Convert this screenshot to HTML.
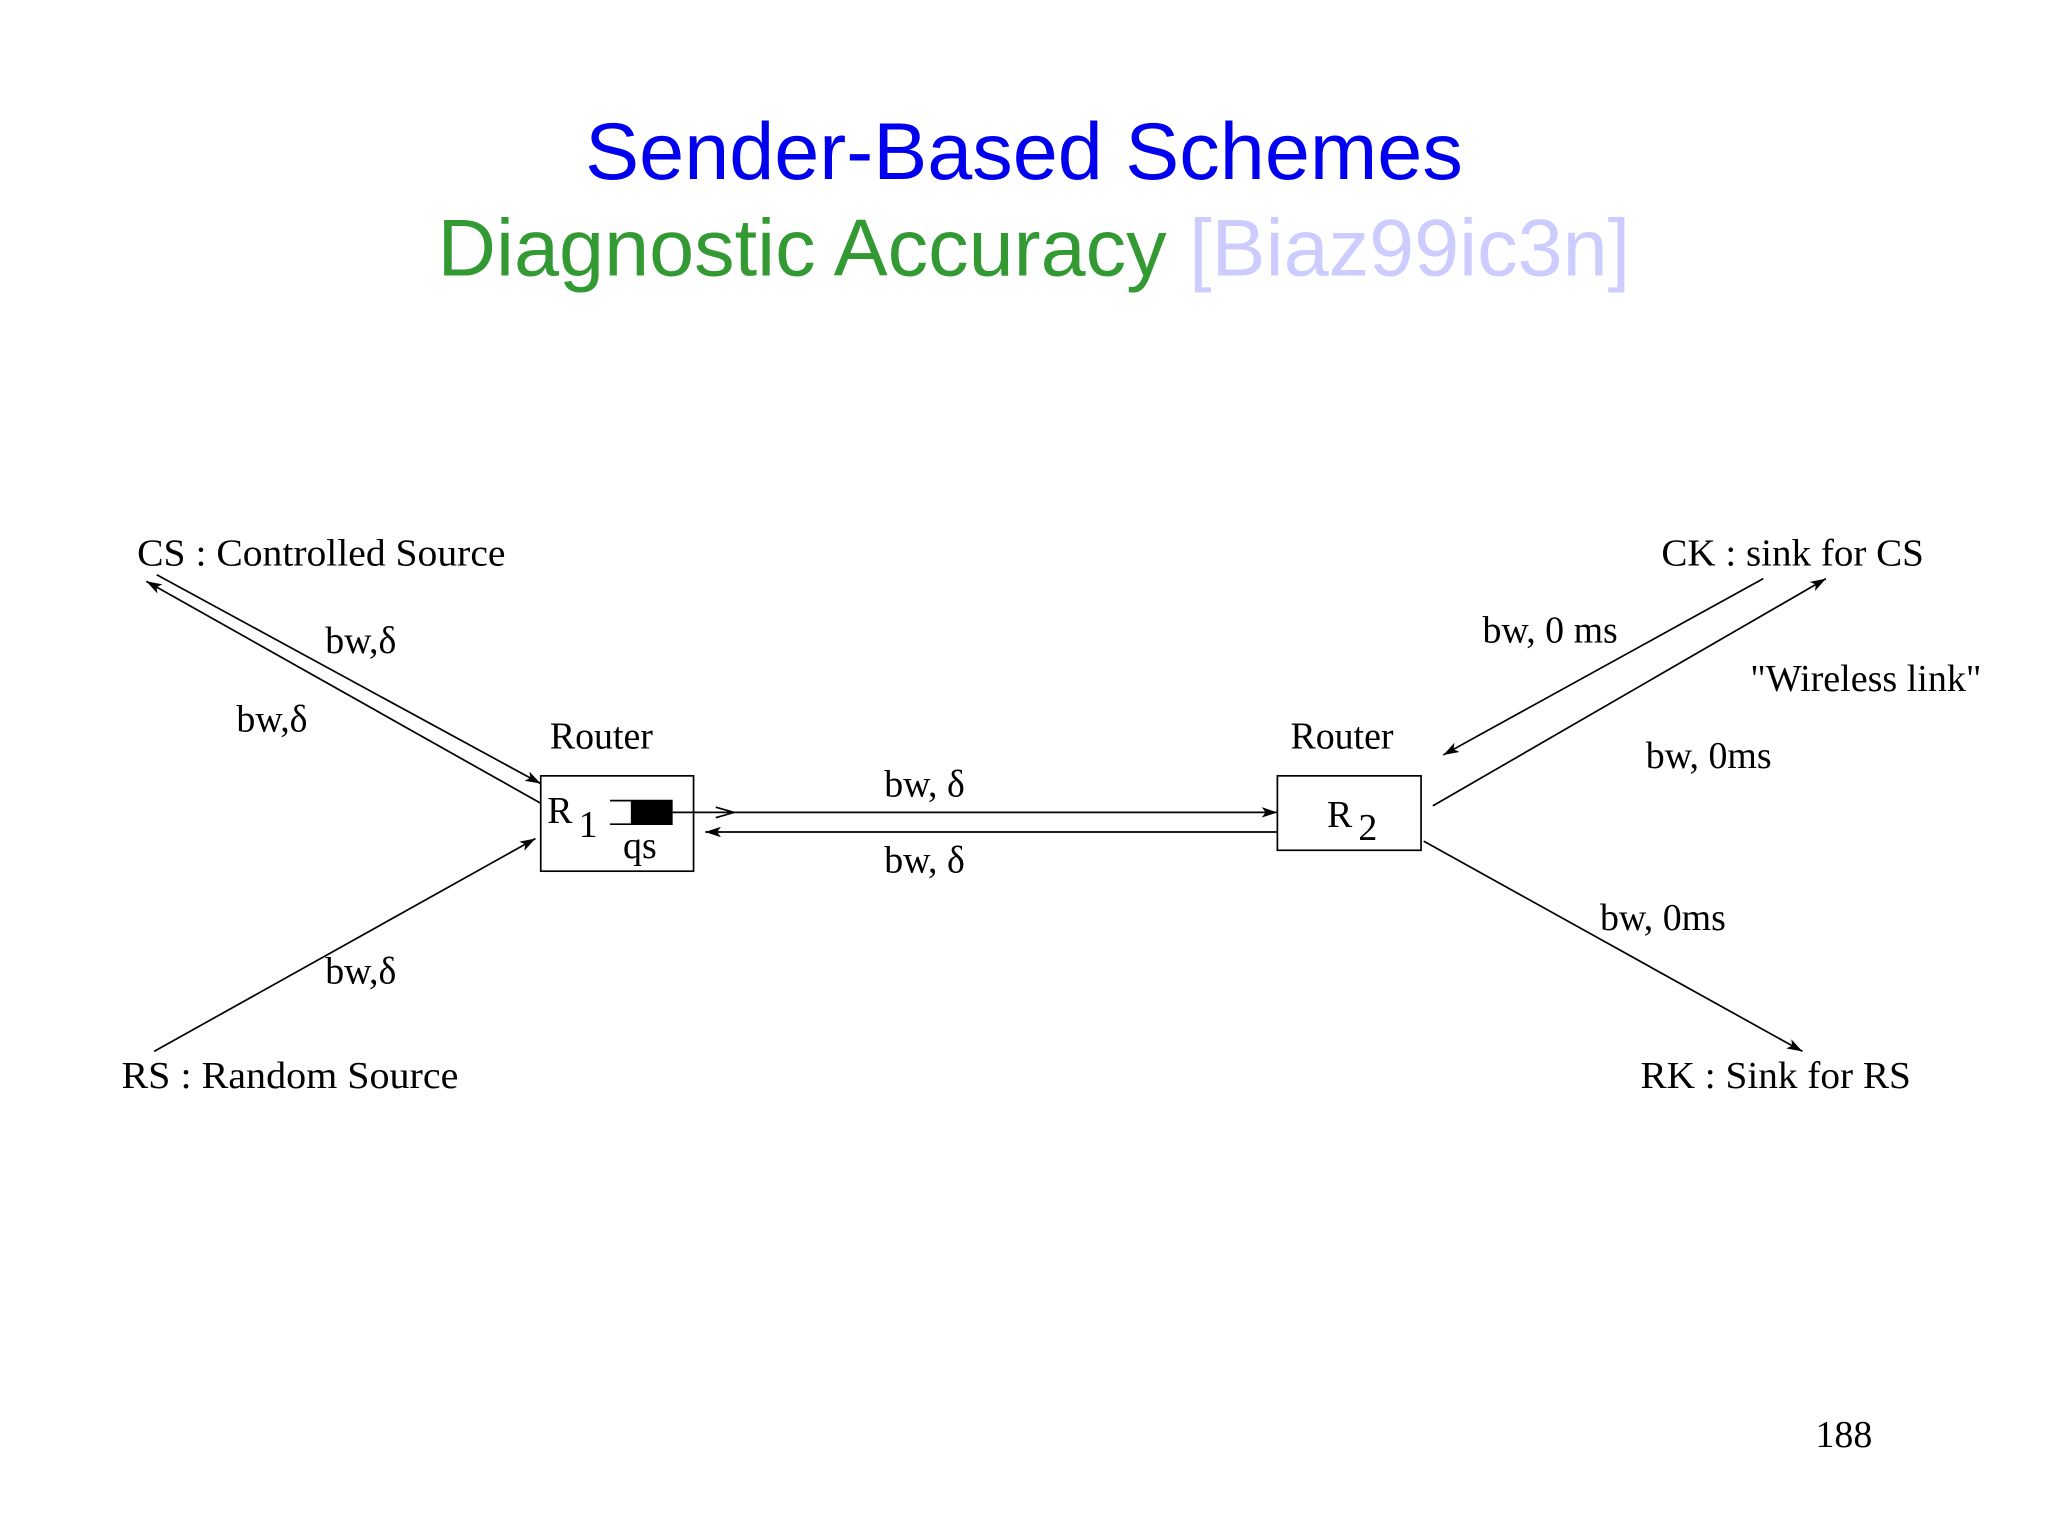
<!DOCTYPE html>
<html><head><meta charset="utf-8"><style>
html,body{margin:0;padding:0;background:#fff}
svg{display:block}
.t{font-family:"Liberation Serif",serif;font-size:29px;fill:#000}
.h{font-family:"Liberation Sans",sans-serif;font-size:62px}
line{stroke:#000;stroke-width:1.3}
</style></head><body>
<svg width="2048" height="1536" viewBox="0 0 1568 1176" xmlns="http://www.w3.org/2000/svg">
<defs><marker id="a" markerWidth="12" markerHeight="8" refX="12" refY="4" orient="auto" markerUnits="userSpaceOnUse"><path d="M0,0 L12,4 L0,8 L3,4 Z" fill="#000"/></marker></defs>
<text class="h" x="784" y="137" text-anchor="middle" fill="#0000ee">Sender-Based Schemes</text>
<text class="h" x="335" y="211" fill="#339933">Diagnostic Accuracy <tspan fill="#ccccff">[Biaz99ic3n]</tspan></text>

<text class="t" x="105" y="433" textLength="282" lengthAdjust="spacingAndGlyphs">CS : Controlled Source</text>
<text class="t" x="249" y="500">bw,δ</text>
<text class="t" x="181" y="560">bw,δ</text>
<text class="t" x="421" y="573">Router</text>
<text class="t" x="677" y="610">bw, δ</text>
<text class="t" x="677" y="668">bw, δ</text>
<text class="t" x="249" y="753">bw,δ</text>
<text class="t" x="93" y="833" textLength="258" lengthAdjust="spacingAndGlyphs">RS : Random Source</text>
<text class="t" x="988" y="573">Router</text>
<text class="t" x="1272" y="433" textLength="201" lengthAdjust="spacingAndGlyphs">CK : sink for CS</text>
<text class="t" x="1135" y="492">bw,  0 ms</text>
<text class="t" x="1340" y="529" textLength="177" lengthAdjust="spacingAndGlyphs">"Wireless link"</text>
<text class="t" x="1260" y="588">bw,  0ms</text>
<text class="t" x="1225" y="712">bw,  0ms</text>
<text class="t" x="1256" y="833" textLength="207" lengthAdjust="spacingAndGlyphs">RK : Sink for RS</text>
<text class="t" x="1390" y="1108">188</text>

<line x1="120" y1="440" x2="414" y2="600" marker-end="url(#a)"/>
<line x1="414" y1="615" x2="112" y2="445" marker-end="url(#a)"/>
<line x1="118" y1="805" x2="410" y2="642" marker-end="url(#a)"/>

<rect x="414" y="594" width="117" height="73" fill="none" stroke="#000" stroke-width="1.3"/>
<text class="t" x="419" y="630">R</text>
<text class="t" x="443" y="641">1</text>
<rect x="483" y="613" width="32" height="18" fill="#000"/>
<line x1="467" y1="613" x2="515" y2="613"/>
<line x1="467" y1="631" x2="515" y2="631"/>
<text class="t" x="477" y="657">qs</text>

<line x1="515" y1="622" x2="978" y2="622" marker-end="url(#a)"/>
<path d="M548,618 L562,622 L548,626" fill="none" stroke="#000" stroke-width="1.3"/>
<line x1="978" y1="637" x2="540" y2="637" marker-end="url(#a)"/>

<rect x="978" y="594" width="110" height="57" fill="none" stroke="#000" stroke-width="1.3"/>
<text class="t" x="1016" y="633">R</text>
<text class="t" x="1040" y="643">2</text>

<line x1="1350" y1="443" x2="1105" y2="578" marker-end="url(#a)"/>
<line x1="1097" y1="617" x2="1398" y2="443" marker-end="url(#a)"/>
<line x1="1090" y1="644" x2="1380" y2="805" marker-end="url(#a)"/>
</svg>
</body></html>
